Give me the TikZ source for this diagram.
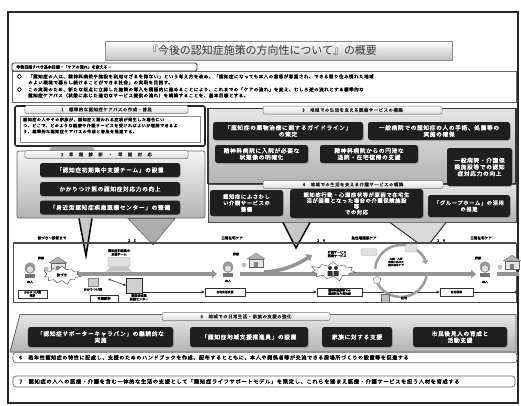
\documentclass[tikz,border=0pt]{standalone}
\usepackage{fontspec}
\setmainfont[AutoFakeBold=2,BoldFeatures={FakeBold=1}]{Noto Sans CJK JP}
\newfontfamily\spaced[LetterSpace=12,AutoFakeBold=2,BoldFeatures={FakeBold=1}]{Noto Sans CJK JP}
\usetikzlibrary{shapes.symbols,shapes.geometric,arrows.meta,shadows}
\newcommand\fz[2]{\fontsize{#1}{#2}\selectfont}
\begin{document}
\begin{tikzpicture}[x=1bp,y=-1bp,
  panel/.style={draw=black!60, line width=0.8bp, top color=black!10, bottom color=black!30},
  tab/.style={draw=black!55, line width=0.5bp, rounded corners=2bp, top color=white, bottom color=black!14,
    font=\spaced\fz{4.4}{5}\bfseries, text=black!85, inner sep=0pt, minimum height=8bp},
  bbox/.style={fill=black!88, rounded corners=2.5bp, text=white, font=\spaced\fz{5.7}{6.6}\bfseries,
    align=center, inner sep=0pt, drop shadow={shadow xshift=0.8bp, shadow yshift=-0.8bp, opacity=0.4}},
  line/.style={anchor=west, inner sep=0pt, font=\spaced\fz{4.5}{5}\bfseries},
  rowbox/.style={draw=black!60, line width=0.7bp, rounded corners=3bp, fill=white, inner sep=0pt},
  note/.style={inner sep=0pt, align=center, font=\fz{3.1}{3.5}\bfseries},
  phase/.style={inner sep=0pt, font=\fz{3.6}{4}\bfseries},
  flowbox/.style={draw=black!80, line width=0.6bp, fill=white, inner sep=0pt, align=center, font=\fz{2.8}{3.2}\bfseries},
  bigarrow/.style={line width=3.6bp, black!42, -{Triangle[length=5bp,width=8.5bp]}},
  thinarrow/.style={line width=0.7bp, black!80, -{Triangle[length=3bp,width=3bp]}},
  callout/.style={draw=black, line width=1.5bp, fill=black!22, line join=miter},
  person/.pic={
    \fill[black!40] (0,-1) ellipse (5.3 and 5.8);
    \fill[black!12, draw=black!60, line width=0.3bp] (0,0.5) circle (3.6);
    \fill[black!55] (-5,5) rectangle (5,9);
  },
  house/.pic={
    \fill[black!30, draw=black!60, line width=0.3bp] (-9,0) -- (0,-6) -- (9,0) -- cycle;
    \fill[black!10, draw=black!60, line width=0.3bp] (-7,0) rectangle (7,8);
    \fill[black!50] (-2,2.5) rectangle (2,8);
    \fill[black!25] (-12,6) circle (2.5);
  }
]
\useasboundingbox (0,0) rectangle (521,405);

% outer frame
\node[draw=black!85, line width=1.5bp, minimum width=510bp, minimum height=391bp, inner sep=0pt] (frame) at (263,207.5) {};

% title
\node[draw=black!45, line width=0.6bp, top color=white, bottom color=black!24,
      minimum width=347bp, minimum height=19bp, inner sep=0pt] (title) at (278.5,50.5) {};
\node[inner sep=0pt, font=\fz{11}{12}, text=black!80] (titletext) at (262,50.5)
      {『今後の認知症施策の方向性について』の概要};

% basic goal
\node[draw=black!60, line width=0.5bp, minimum width=504bp, minimum height=31bp, inner sep=0pt] (goalbox) at (264,86.5) {};
\node[draw=black!80, line width=0.8bp, rounded corners=1.5bp, fill=white, minimum width=185bp, minimum height=8bp, inner sep=0pt] (goal) at (104.5,67) {};
\node[anchor=west, inner sep=0pt, font=\fz{4}{4.5}\bfseries] (goaltext) at (16,67) {今後目指すべき基本目標－「ケアの流れ」を変える－};
\node[line] (o1) at (17,76.5) {○};
\node[line] (l1) at (28,76.5) {「認知症の人は、精神科病院や施設を利用せざるを得ない」という考え方を改め、「認知症になっても本人の意思が尊重され、できる限り住み慣れた地域};
\node[line] (l1b) at (28,82.5) {のよい環境で暮らし続けることができる社会」の実現を目指す。};
\node[line] (o2) at (17,89.5) {○};
\node[line] (l2) at (28,89.5) {この実現のため、新たな視点に立脚した施策の導入を積極的に進めることにより、これまでの「ケアの流れ」を変え、むしろ逆の流れとする標準的な};
\node[line] (l2b) at (28,95.5) {認知症ケアパス（状態に応じた適切なサービス提供の流れ）を構築することを、基本目標とする。};

% 1
\node[draw=black!85, line width=1.6bp, rounded corners=2bp, fill=white, minimum width=190bp, minimum height=40bp, inner sep=0pt] (s1) at (110,126) {};
\node[draw=black!45, line width=0.4bp, fill=white, minimum width=180bp, minimum height=26bp, inner sep=0pt] (s1in) at (110,129) {};
\node[anchor=north west, inner sep=0pt, align=left, font=\spaced\fz{4.1}{6}\bfseries] (s1text) at (23,117.5)
  {認知症の人やその家族が、認知症と疑われる症状が発生した場合にい\\つ、どこで、どのような医療や介護サービスを受ければよいか理解できるよ\\う、標準的な認知症ケアパスの作成と普及を推進する。};
\node[tab, minimum width=163bp] (t1) at (106.5,109.5) {1　標準的な認知症ケアパスの作成・普及};
\fill[black!35] (52,146.5) -- (92,146.5) -- (96,151.5) -- (48,151.5) -- cycle;

% 2
\node[panel, top color=black!4, rounded corners=2bp, minimum width=188bp, minimum height=67bp, inner sep=0pt] (s2) at (111,184.5) {};
\node[tab, minimum width=163bp] (t2) at (106.5,154.5) {2　早　期　診　断　・　早　期　対　応};
\node[bbox, minimum width=140bp, minimum height=14bp] (b21) at (110,170) {「認知症初期集中支援チーム」の設置};
\node[bbox, minimum width=140bp, minimum height=14bp] (b22) at (110,189) {かかりつけ医の認知症対応力の向上};
\node[bbox, minimum width=140bp, minimum height=14bp] (b23) at (110,207.5) {「身近型認知症疾患医療センター」の整備};

% 3
\node[panel, draw=black!80, line width=1.2bp, minimum width=308bp, minimum height=75bp, inner sep=0pt] (s3) at (362,146) {};
\node[tab, minimum width=179bp] (t3) at (352.5,110) {3　地域での生活を支える医療サービスの構築};
\node[bbox, minimum width=150bp, minimum height=18bp] (b31) at (288,131) {「認知症の薬物治療に関するガイドライン」\\の策定};
\node[bbox, minimum width=142bp, minimum height=18bp] (b32) at (439,131) {一般病院での認知症の人の手術、処置等の\\実施の確保};
\node[bbox, minimum width=93bp, minimum height=18bp] (b33) at (261.5,154) {精神科病院に入院が必要な\\状態像の明確化};
\node[bbox, minimum width=98bp, minimum height=18bp] (b34) at (369,154) {精神科病院からの円滑な\\退院・在宅復帰の支援};

% 4
\node[panel, draw=black!70, line width=1bp, minimum width=308bp, minimum height=38bp, inner sep=0pt] (s4) at (362,203) {};
\node[tab, minimum width=180bp] (t4) at (353,184.5) {4　地域での生活を支える介護サービスの構築};
\node[bbox, minimum width=65bp, minimum height=38bp] (b35) at (479.5,167) {一般病院・介護保\\険施設等での認知\\症対応力の向上};
\node[bbox, minimum width=73bp, minimum height=26bp, font=\spaced\fz{5.3}{6.4}\bfseries] (b41) at (246.5,203) {認知症にふさわし\\い介護サービスの\\整備};
\node[bbox, minimum width=133bp, minimum height=29bp, font=\spaced\fz{5.3}{5.8}\bfseries] (b42) at (356.5,203.5) {認知症行動・心理症状等が原因で在宅生\\活が困難となった場合の介護保険施設\\等\\での対応};
\node[bbox, minimum width=82bp, minimum height=22bp, font=\spaced\fz{5.3}{6.4}\bfseries] (b43) at (469,206) {「グループホーム」の活用\\の推進};

% callouts toward the care flow
\draw[callout] (79,218.5) -- (86,256) -- (92,218.5);
\draw[draw=black!60, line width=0.6bp, fill=black!32] (128,218.5) -- (153,245) -- (175,218.5) -- cycle;
\draw[callout] (283,222.5) -- (296,248) -- (310,222.5);
\draw[draw=black!80, line width=1bp, fill=black!15] (390,222.5) -- (418,243) -- (430,243) -- (446,222.5);

% care flow band
\node[draw=black!70, line width=0.6bp, minimum width=503bp, minimum height=59bp, inner sep=0pt] (band) at (264.5,272.5) {};
\draw[line width=2bp, black!70] (band.north west) -- (band.north east);
\node[phase] (ph1) at (52,238) {気づき～診断まで};
\node[phase] (ph2) at (232,238) {日常在宅ケア};
\node[phase] (ph3) at (364,238) {急性増悪期ケア};
\node[phase] (ph4) at (481,238) {日常在宅ケア};
\node[phase] (n1) at (132,240.5) {2　2};
\node[phase] (n2) at (321,240.5) {2　4};
\node[phase] (n3) at (441,240.5) {2　4};

% lower flow line
\node[flowbox, minimum width=29bp, minimum height=8bp] (f0) at (32.5,294) {かかりつけ医\\受診};
\node[flowbox, minimum width=28bp, minimum height=7bp, line width=0.9bp, font=\fz{3.3}{3.6}\bfseries] (f1) at (104,298.5) {早期診断};
\node[flowbox, minimum width=40bp, minimum height=8bp] (f2) at (225,292) {在宅生活支援};
\node[flowbox, minimum width=45bp, minimum height=8bp] (f3) at (339.5,292) {精神科病院等での\\短期的な入院治療};
\node[flowbox, minimum width=33bp, minimum height=8bp] (f4) at (456.5,292) {在宅復帰};
\coordinate (fs) at (143,292);
\coordinate (fe) at (518,292);
\draw[thinarrow] (fs) -- (f2.west);
\draw[thinarrow] (f2.east) -- (f3.west);
\draw[thinarrow] (f3.east) -- (f4.west);
\draw[thinarrow] (f4.east) -- (fe);

% main care arrows
\coordinate (a0) at (70,274);
\coordinate (a1) at (217,274);
\coordinate (a2) at (240,274);
\coordinate (a3) at (476,274);
\coordinate (a4) at (519,274);
\coordinate (c1) at (312,255);
\draw[bigarrow] (a0) -- (a1);
\draw[bigarrow] (a2) -- (a3);
\draw[bigarrow] (264,272) .. controls (285,271) and (300,263) .. (c1);
\draw[line width=3.6bp, black!42] (497,274) -- (a4);

% the person, family and home
\pic at (30,269) {person};
\node[note] (me1) at (30,282) {本人};
\node[note] (fa1) at (41,258) {家族};
\pic at (58,263) {house};
\node[starburst, starburst points=11, starburst point height=5bp, draw=black!70, line width=0.4bp, fill=white,
      minimum width=40bp, minimum height=21bp, inner sep=0pt, font=\fz{3.4}{4}\bfseries] (sb1) at (62,275) {気づき};

% early diagnosis support
\node[note] (teamlab) at (119,252.5) {認知症初期集中\\支援チーム};
\node[draw=black!40, fill=black!12, rounded corners=1bp, minimum width=22bp, minimum height=9bp, inner sep=0pt] (team) at (119,262) {};
\fill[black!22] (110,267) -- (128,267) -- (132,271.5) -- (106,271.5) -- cycle;
\node[draw=black!50, fill=black!20, minimum width=10bp, minimum height=8bp, inner sep=0pt] (gp) at (93,282) {};
\node[note] (gplab) at (93,289.5) {かかりつけ医};
\node[draw=black!85, line width=0.8bp, fill=black!18, minimum width=16bp, minimum height=15bp, inner sep=0pt] (cen) at (134.5,285.5) {};
\node[note, anchor=north] (cenlab) at (139,294) {認知症疾患\\医療センター};
\draw[line width=0.6bp, black!75, {Triangle[length=2.5bp,width=2.5bp]}-{Triangle[length=2.5bp,width=2.5bp]}] (gp.east) ++(10,-3) -- (cen.west);

% second home stage
\pic at (228,268) {person};
\node[note] (me2) at (228,281) {本人};
\node[note] (fa2) at (236,254) {家族};
\pic at (256,259) {house};

% acute stage
\node[note] (svc) at (337,254) {介護サービス\\医療サービス};
\node[starburst, starburst points=11, starburst point height=6bp, draw=black!70, line width=0.4bp, fill=white,
      minimum width=48bp, minimum height=22bp, inner sep=0pt] (sb2) at (333,271) {};
\fill[black!80] (330,268) circle (2) (336,268) circle (2);
\fill[black!80] (327.5,271) rectangle (332.5,276) (333.5,271) rectangle (338.5,276);
\coordinate (ring) at (401,271);
\draw[line width=2.6bp, black!38, -{Triangle[length=4bp,width=6.5bp]}] (ring) ++(185:26) arc (185:345:26);
\draw[line width=2.6bp, black!38, -{Triangle[length=4bp,width=6.5bp]}] (ring) ++(5:26) arc (5:165:26);
\node[draw=black!30, fill=black!12, rounded corners=2bp, minimum width=16bp, minimum height=7bp, inner sep=0pt] (ic1) at (369,252) {};
\node[draw=black!30, fill=black!12, rounded corners=2bp, minimum width=12bp, minimum height=8bp, inner sep=0pt] (ic2) at (411,248) {};
\node[note, font=\fz{2.6}{3.1}\bfseries] (ringtext) at (396,262) {入院・入所\\状態に応じた\\集中的なケア};
\node[regular polygon, regular polygon sides=5, draw=black!60, line width=0.4bp, fill=white, minimum size=8bp, inner sep=0pt] (home) at (377,280) {};
\node[draw=black!60, fill=black!25, minimum width=8bp, minimum height=8bp, inner sep=0pt] (hosp) at (385,298) {};
\node[note] (hosplab) at (404,298) {在宅};

% third home stage
\pic at (485,268) {person};
\node[note] (me3) at (485,282) {本人};
\node[note] (fa3) at (478,258) {家族};
\pic at (512,261) {house};

% 5
\filldraw[panel] (20,314.5) -- (516,314.5) -- (516,352) -- (10,352) -- cycle;
\node[tab, minimum width=168bp] (t5) at (246,316.5) {5　地域での日常生活・家族の支援の強化};
\node[bbox, minimum width=145bp, minimum height=20bp] (b51) at (100.5,337) {「認知症サポーターキャラバン」の継続的な\\実施};
\node[bbox, minimum width=118bp, minimum height=20bp] (b52) at (249,337) {「認知症地域支援推進員」の設置};
\node[bbox, minimum width=70bp, minimum height=20bp] (b53) at (357,337) {家族に対する支援};
\node[bbox, minimum width=94bp, minimum height=20bp] (b54) at (460,337) {市民後見人の育成と\\活動支援};

% 6 and 7
\node[rowbox, minimum width=504bp, minimum height=10.5bp] (r6) at (265,357.5) {};
\node[line, font=\spaced\fz{5.1}{6}\bfseries] (r6t) at (19,357.5) {6　若年性認知症の特性に配慮し、支援のためのハンドブックを作成、配布するとともに、本人や関係者等が交流できる居場所づくりの設置等を促進する};
\node[rowbox, minimum width=502bp, minimum height=11bp] (r7) at (264,381.5) {};
\node[line, font=\spaced\fz{5.3}{6}\bfseries] (r7t) at (19,381.5) {7　認知症の人への医療・介護を含む一体的な生活の支援として「認知症ライフサポートモデル」を策定し、これらを踏まえ医療・介護サービスを担う人材を育成する};
\end{tikzpicture}
\end{document}
